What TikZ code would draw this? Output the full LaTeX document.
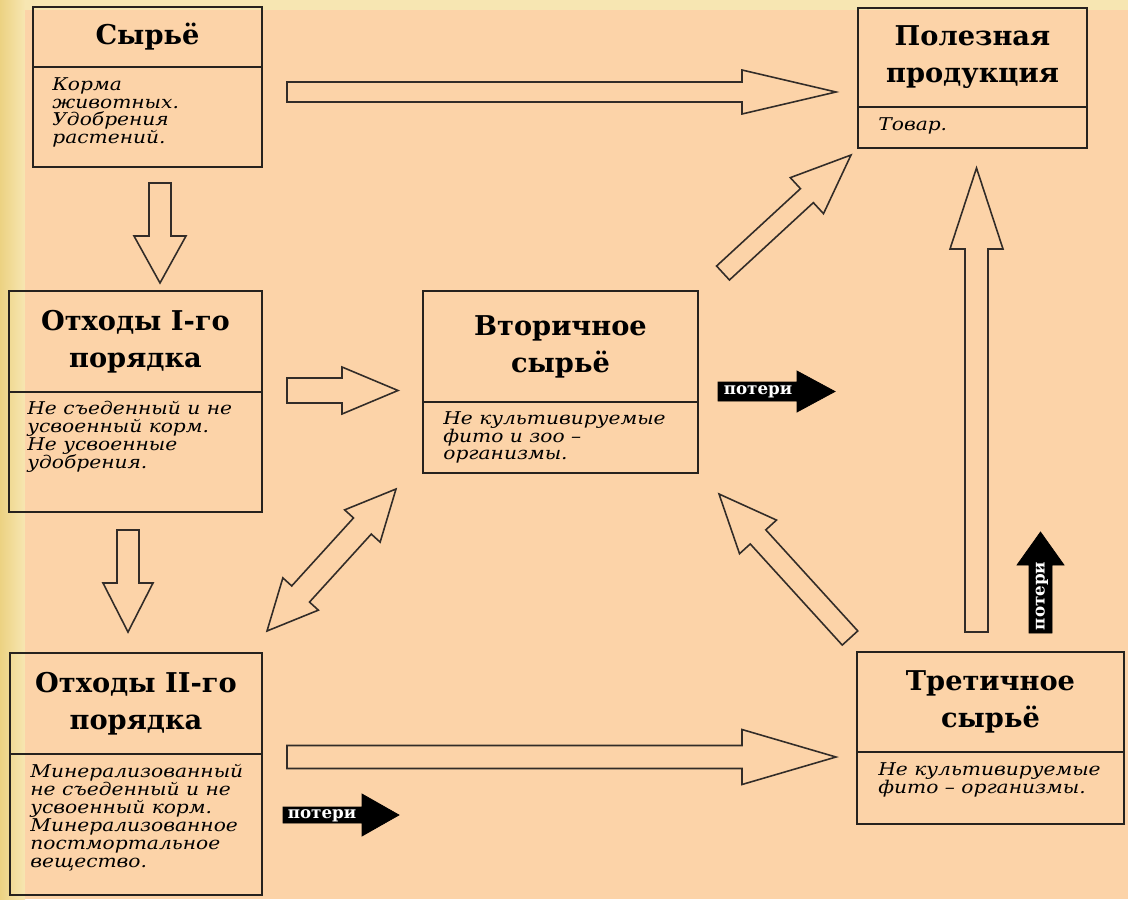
\documentclass[tikz,border=0pt]{standalone}
\usepackage{fontspec}
\setmainfont{DejaVu Serif}
\newfontfamily\notefont[FakeStretch=1.15]{DejaVu Serif}
\usetikzlibrary{calc,positioning}

\definecolor{peach}{RGB}{252,211,168}
\definecolor{cream}{RGB}{247,230,178}
\definecolor{edgeyellow}{RGB}{236,210,130}
\definecolor{inkline}{RGB}{38,34,30}
\definecolor{arrowline}{RGB}{50,44,40}

\tikzset{
    headbox/.style={
        draw=inkline,
        line width=1.1pt,
        anchor=north west,
        outer sep=0pt,
        align=center,
        font=\fontsize{15.5}{21}\selectfont\bfseries
    },
    notebox/.style={
        draw=inkline,
        line width=1.1pt,
        anchor=north west,
        outer sep=0pt
    },
    notetext/.style={
        anchor=north west,
        inner sep=0pt,
        align=left,
        font=\notefont\itshape\fontsize{10}{10.2}\selectfont
    },
    fatline/.style={
        draw=arrowline,
        fill=peach,
        line width=0.9pt,
        line join=miter
    },
    lossline/.style={
        draw=black,
        fill=black,
        line width=0.4pt
    },
    losstext/.style={
        text=white,
        inner sep=0pt,
        font=\fontsize{9.5}{10}\selectfont\bfseries
    }
}

% block arrow: [style] tail, tip, shaft half width, head half width, head length
\newcommand{\fatarrow}[6][fatline]{%
  \coordinate (fa-base) at ($(#3)!#6!(#2)$);
  \draw[#1] ($(#2)!#4!90:(#3)$) -- ($(fa-base)!#4!90:(#3)$) -- ($(fa-base)!#5!90:(#3)$) -- (#3)
    -- ($(fa-base)!#5!-90:(#3)$) -- ($(fa-base)!#4!-90:(#3)$) -- ($(#2)!#4!-90:(#3)$) -- cycle;
}
% block arrow with two heads
\newcommand{\dblarrow}[6][fatline]{%
  \coordinate (da-a) at ($(#2)!#6!(#3)$);
  \coordinate (da-b) at ($(#3)!#6!(#2)$);
  \draw[#1] (#2) -- ($(da-a)!#5!90:(#3)$) -- ($(da-a)!#4!90:(#3)$) -- ($(da-b)!#4!90:(#3)$)
    -- ($(da-b)!#5!90:(#3)$) -- (#3) -- ($(da-b)!#5!-90:(#3)$) -- ($(da-b)!#4!-90:(#3)$)
    -- ($(da-a)!#4!-90:(#3)$) -- ($(da-a)!#5!-90:(#3)$) -- cycle;
}

\begin{document}
\begin{tikzpicture}[x=0.02cm, y=-0.02cm]
  % Background
  \useasboundingbox (0,0) rectangle (1128,899);
  \fill[cream] (0,0) rectangle (1128,899);
  \shade[left color=edgeyellow, right color=cream] (0,0) rectangle (25,899);
  \fill[peach] (25,10) rectangle (1128,899);

  % Boxes
  \node[headbox, minimum width=4.58cm, minimum height=1.2cm] (raw) at (33,7) {Сырьё};
  \node[notebox, minimum width=4.58cm, minimum height=2cm] (rawnote) at (raw.south west) {};
  \node[notetext] (rawtext) at ($(rawnote.north west)+(19,10)$) {Корма\\животных.\\Удобрения\\растений.};

  \node[headbox, minimum width=4.58cm, minimum height=1.98cm] (useful) at (858,8) {Полезная\\продукция};
  \node[notebox, minimum width=4.58cm, minimum height=0.82cm] (usefulnote) at (useful.south west) {};
  \node[notetext] (usefultext) at ($(usefulnote.north west)+(20,10)$) {Товар.};

  \node[headbox, minimum width=5.06cm, minimum height=2.02cm] (waste1) at (9,291) {Отходы I-го\\порядка};
  \node[notebox, minimum width=5.06cm, minimum height=2.4cm] (waste1note) at (waste1.south west) {};
  \node[notetext] (waste1text) at ($(waste1note.north west)+(18,9)$) {Не съеденный и не\\усвоенный корм.\\Не усвоенные\\удобрения.};

  \node[headbox, minimum width=5.04cm, minimum height=2.02cm] (waste2) at (10,653) {Отходы II-го\\порядка};
  \node[notebox, minimum width=5.04cm, minimum height=2.82cm] (waste2note) at (waste2.south west) {};
  \node[notetext] (waste2text) at ($(waste2note.north west)+(20,10)$) {Минерализованный\\не съеденный и не\\усвоенный корм.\\Минерализованное\\постмортальное\\вещество.};

  \node[headbox, minimum width=5.5cm, minimum height=2.22cm] (second) at (423,291) {Вторичное\\сырьё};
  \node[notebox, minimum width=5.5cm, minimum height=1.42cm] (secondnote) at (second.south west) {};
  \node[notetext] (secondtext) at ($(secondnote.north west)+(20,9)$) {Не культивируемые\\фито и зоо –\\организмы.};

  \node[headbox, minimum width=5.34cm, minimum height=2cm] (third) at (857,652) {Третичное\\сырьё};
  \node[notebox, minimum width=5.34cm, minimum height=1.44cm] (thirdnote) at (third.south west) {};
  \node[notetext] (thirdtext) at ($(thirdnote.north west)+(21,10)$) {Не культивируемые\\фито – организмы.};

  % Arrow ends
  \coordinate (rawout) at (287,92);
  \coordinate (usefulin) at (836,92);
  \coordinate (rawdown) at (160,183);
  \coordinate (waste1in) at (160,283);
  \coordinate (waste1down) at (128,530);
  \coordinate (waste2in) at (128,632);
  \coordinate (waste1out) at (287,390.5);
  \coordinate (secondin) at (398,390.5);
  \coordinate (waste2up) at (267,631);
  \coordinate (secondlow) at (396,489);
  \coordinate (secondup) at (723,273);
  \coordinate (usefulside) at (851,155);
  \coordinate (thirdleft) at (850,638);
  \coordinate (secondback) at (719,494);
  \coordinate (thirdup) at (976.5,632);
  \coordinate (usefulbot) at (976.5,168);
  \coordinate (waste2out) at (287,757);
  \coordinate (thirdin) at (836,757);

  % Flows
  \fatarrow{rawout}{usefulin}{0.2cm}{0.44cm}{1.88cm}
  \fatarrow{rawdown}{waste1in}{0.22cm}{0.52cm}{0.94cm}
  \fatarrow{waste1down}{waste2in}{0.22cm}{0.5cm}{0.98cm}
  \fatarrow{waste1out}{secondin}{0.25cm}{0.47cm}{1.12cm}
  \dblarrow{waste2up}{secondlow}{0.24cm}{0.48cm}{1cm}
  \fatarrow{secondup}{usefulside}{0.19cm}{0.49cm}{1.2cm}
  \fatarrow{thirdleft}{secondback}{0.21cm}{0.5cm}{1.16cm}
  \fatarrow{thirdup}{usefulbot}{0.23cm}{0.53cm}{1.62cm}
  \fatarrow{waste2out}{thirdin}{0.23cm}{0.55cm}{1.88cm}

  % Losses
  \coordinate (loss1a) at (718,391.5);
  \coordinate (loss1b) at (835,391.5);
  \coordinate (loss2a) at (283,815);
  \coordinate (loss2b) at (399,815);
  \coordinate (loss3a) at (1040.5,633);
  \coordinate (loss3b) at (1040.5,532);
  \fatarrow[lossline]{loss1a}{loss1b}{0.19cm}{0.41cm}{0.76cm}
  \fatarrow[lossline]{loss2a}{loss2b}{0.16cm}{0.42cm}{0.74cm}
  \fatarrow[lossline]{loss3a}{loss3b}{0.23cm}{0.47cm}{0.66cm}
  \node[losstext] (loss1) at (758,392) {потери};
  \node[losstext] (loss2) at (322,815.5) {потери};
  \node[losstext, rotate=90] (loss3) at (1042,596) {потери};
\end{tikzpicture}
\end{document}
